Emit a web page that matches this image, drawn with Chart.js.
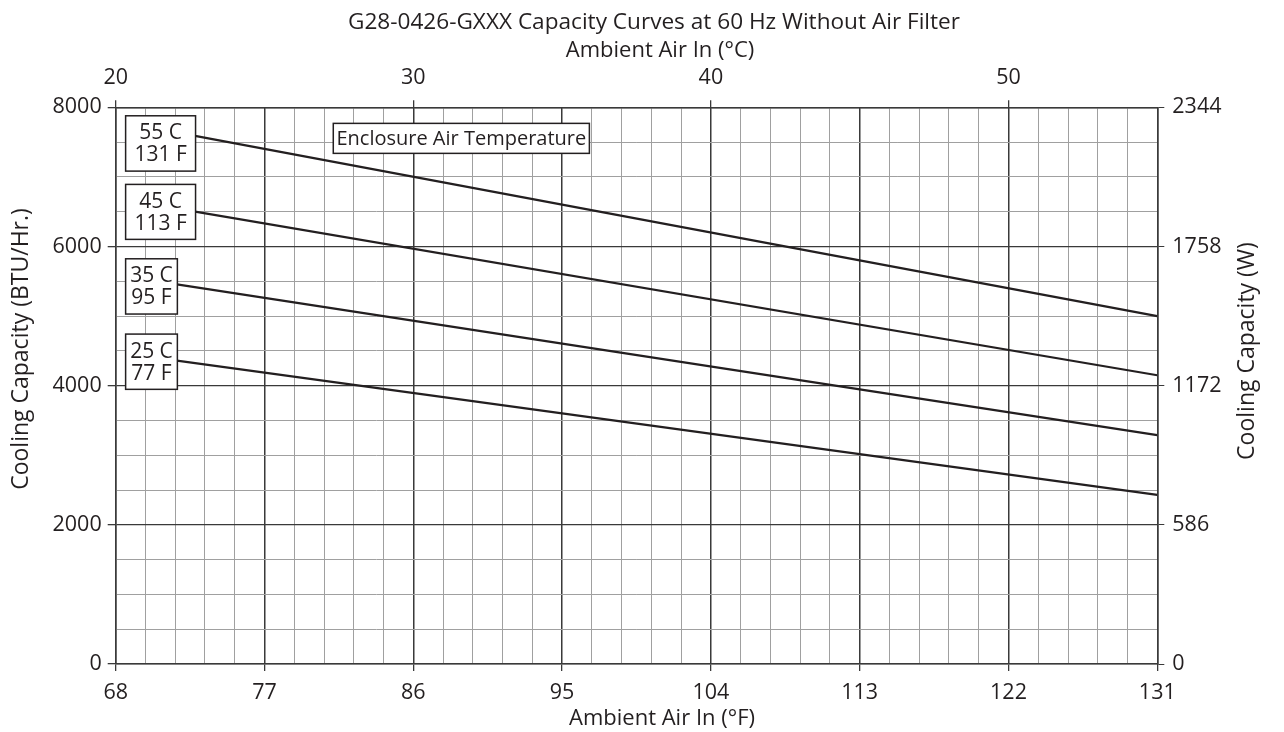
<!DOCTYPE html>
<html>
<head>
<meta charset="utf-8">
<script src="https://cdn.jsdelivr.net/npm/chart.js@4"></script>
<style>
  body { margin: 0; background: #fff; }
  canvas { display: block; }
</style>
</head>
<body>
<canvas id="capacityChart" width="1284" height="732"></canvas>
<script>
// values: each line starts where it leaves its label box
const ambientHigh = [72.8, 131];   // 55 C and 45 C curves, °F
const ambientLow = [71.7, 131];    // 35 C and 25 C curves, °F
const cap55 = [7590, 5000];
const cap45 = [6500, 4150];
const cap35 = [5455, 3290];
const cap25 = [4360, 2430];

const fTicks = [68, 77, 86, 95, 104, 113, 122, 131];
const cTicks = [20, 30, 40, 50];
const btuTicks = [0, 2000, 4000, 6000, 8000];
const wattTicks = [0, 586, 1172, 1758, 2344];

const ink = "#231f20";
const darkGrid = "#3a3a3a";
const lightGrid = "#a0a0a0";
const fontFamily = "'Open Sans', sans-serif";

function toPoints(xs, ys) {
  return ys.map((y, i) => ({ x: xs[i], y: y }));
}

// label boxes, placed in data units (°F, BTU/Hr)
const labelBoxes = [
  { lines: ["55 C", "131 F"], x0: 68.6, x1: 72.83, y0: 7878, y1: 7083, size: 21 },
  { lines: ["45 C", "113 F"], x0: 68.6, x1: 72.83, y0: 6892, y1: 6102, size: 21 },
  { lines: ["35 C", "95 F"], x0: 68.6, x1: 71.73, y0: 5823, y1: 5029, size: 21 },
  { lines: ["25 C", "77 F"], x0: 68.6, x1: 71.73, y0: 4741, y1: 3947, size: 21 },
  { lines: ["Enclosure Air Temperature"], x0: 81.16, x1: 96.65, y0: 7769, y1: 7338, size: 20 }
];

const boxPlugin = {
  id: "boxes",
  afterDatasetsDraw(chart) {
    const ctx = chart.ctx;
    const xs = chart.scales.x, ys = chart.scales.y;
    ctx.save();
    labelBoxes.forEach(b => {
      const l = xs.getPixelForValue(b.x0), r = xs.getPixelForValue(b.x1);
      const t = ys.getPixelForValue(b.y0), btm = ys.getPixelForValue(b.y1);
      ctx.fillStyle = "#fff";
      ctx.fillRect(l, t, r - l, btm - t);
      ctx.strokeStyle = ink;
      ctx.lineWidth = 1.5;
      ctx.strokeRect(l, t, r - l, btm - t);
      ctx.fillStyle = ink;
      ctx.font = b.size + "px " + fontFamily;
      ctx.textAlign = "center";
      ctx.textBaseline = "middle";
      const cx = (l + r) / 2, cy = (t + btm) / 2;
      const step = 22;
      b.lines.forEach((txt, i) => {
        ctx.fillText(txt, cx, cy + (i - (b.lines.length - 1) / 2) * step + 1);
      });
    });
    ctx.restore();
  }
};

function drawText(ctx, txt, x, y, size, rotate) {
  ctx.save();
  ctx.fillStyle = ink;
  ctx.textAlign = "center";
  ctx.textBaseline = "middle";
  ctx.font = size + "px " + fontFamily;
  ctx.translate(x, y);
  if (rotate) ctx.rotate(-Math.PI / 2);
  ctx.fillText(txt, 0, 0);
  ctx.restore();
}

const titlePlugin = {
  id: "titles",
  afterDraw(chart) {
    const ctx = chart.ctx;
    drawText(ctx, "G28-0426-GXXX Capacity Curves at 60 Hz Without Air Filter", 654, 23, 22.6, false);
    drawText(ctx, "Ambient Air In (°C)", 660, 51, 22, false);
    drawText(ctx, "Ambient Air In (°F)", 662, 719, 22, false);
    drawText(ctx, "Cooling Capacity (BTU/Hr.)", 21, 349, 23, true);
    drawText(ctx, "Cooling Capacity (W)", 1247, 351, 23, true);
  }
};

function lineSet(label, xs, ys) {
  return {
    label: label,
    data: toPoints(xs, ys),
    showLine: true,
    borderColor: ink,
    borderWidth: 2.2,
    pointRadius: 0,
    xAxisID: "x",
    yAxisID: "y"
  };
}

const tickFont = { family: fontFamily, size: 21.5 };

new Chart(document.getElementById("capacityChart"), {
  type: "scatter",
  data: {
    datasets: [
      lineSet("55 C / 131 F", ambientHigh, cap55),
      lineSet("45 C / 113 F", ambientHigh, cap45),
      lineSet("35 C / 95 F", ambientLow, cap35),
      lineSet("25 C / 77 F", ambientLow, cap25)
    ]
  },
  options: {
    responsive: false,
    animation: false,
    layout: { padding: 0 },
    plugins: { legend: { display: false }, tooltip: { enabled: false } },
    scales: {
      x: {
        type: "linear",
        position: "bottom",
        min: 68,
        max: 131,
        afterBuildTicks: s => { s.ticks = fTicks.map(v => ({ value: v })); },
        afterFit: s => { s.height = 68; },
        ticks: { color: ink, font: tickFont, padding: 9, autoSkip: false, maxRotation: 0, callback: v => String(v) },
        grid: { color: darkGrid, lineWidth: 1.3, tickLength: 7, tickColor: darkGrid },
        border: { color: darkGrid, width: 1.5 }
      },
      c: {
        type: "linear",
        position: "top",
        min: 20,
        max: 55,
        ticks: {
          stepSize: 1,
          autoSkip: false,
          maxRotation: 0,
          color: ink,
          font: tickFont,
          padding: 10,
          callback: v => (cTicks.includes(v) ? String(v) : "")
        },
        afterFit: s => { s.height = 107.3; },
        grid: {
          tickLength: 7,
          color: c => (c.tick && c.tick.value % 5 === 0 ? darkGrid : lightGrid),
          lineWidth: c => (c.tick && c.tick.value % 5 === 0 ? 1.3 : 1),
          tickColor: c => (c.tick && cTicks.includes(c.tick.value) ? darkGrid : "rgba(0,0,0,0)")
        },
        border: { color: darkGrid, width: 1.5 }
      },
      y: {
        type: "linear",
        position: "left",
        min: 0,
        max: 8000,
        ticks: {
          stepSize: 500,
          autoSkip: false,
          color: ink,
          font: tickFont,
          padding: 6,
          callback: v => (btuTicks.includes(v) ? String(v) : "")
        },
        afterFit: s => { s.width = 115.7; },
        grid: {
          tickLength: 8,
          color: c => (c.tick && btuTicks.includes(c.tick.value) ? darkGrid : lightGrid),
          lineWidth: c => (c.tick && btuTicks.includes(c.tick.value) ? 1.3 : 1),
          tickColor: c => (c.tick && btuTicks.includes(c.tick.value) ? darkGrid : "rgba(0,0,0,0)")
        },
        border: { color: darkGrid, width: 1.5 }
      },
      w: {
        type: "linear",
        position: "right",
        min: 0,
        max: 2344,
        afterBuildTicks: s => { s.ticks = wattTicks.map(v => ({ value: v })); },
        afterFit: s => { s.width = 1284 - 1157.3; },
        ticks: { color: ink, font: tickFont, padding: 8, autoSkip: false, callback: v => String(v) },
        grid: { drawOnChartArea: false, tickLength: 7, color: darkGrid },
        border: { color: darkGrid, width: 1.5 }
      }
    }
  },
  plugins: [boxPlugin, titlePlugin]
});
</script>
</body>
</html>
